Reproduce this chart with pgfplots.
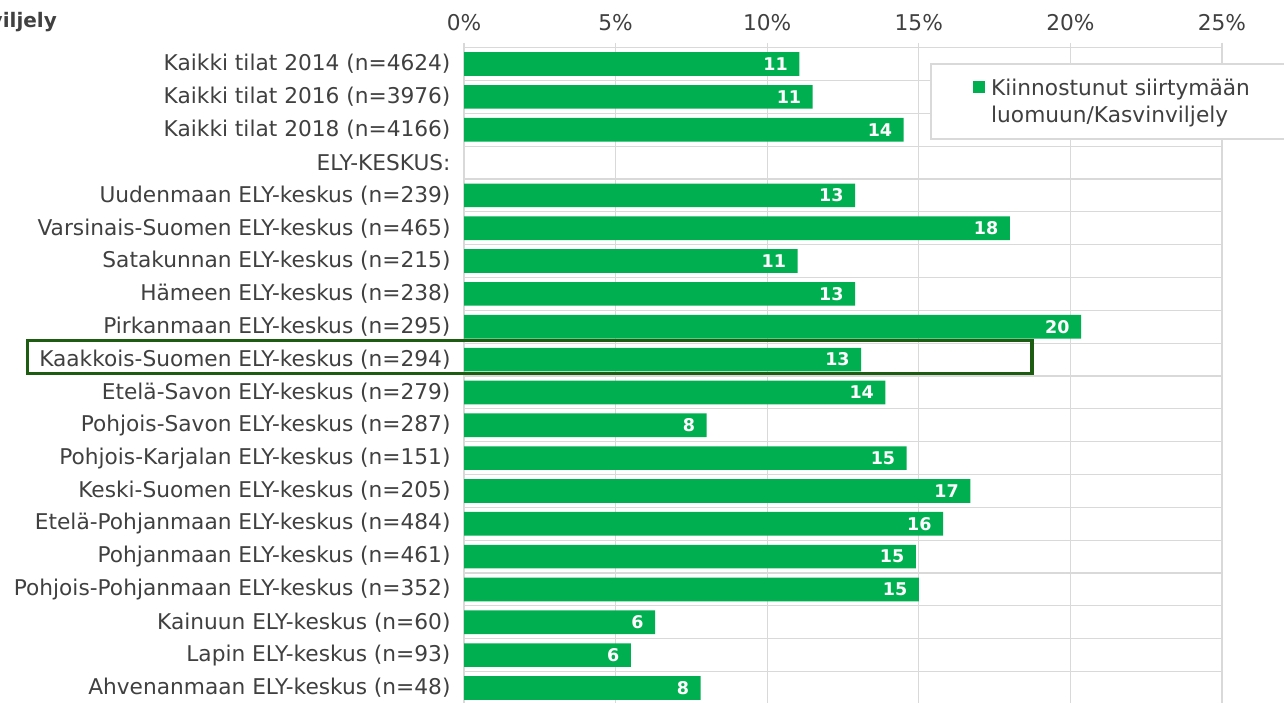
\documentclass[border=0pt]{standalone}
\usepackage{fontspec}
\setmainfont{DejaVu Sans}
\usepackage{pgfplots}
\pgfplotsset{compat=1.18}
\definecolor{bargreen}{HTML}{00B050}
\definecolor{textgray}{HTML}{404040}
\definecolor{gridgray}{HTML}{D9D9D9}
\definecolor{hlgreen}{HTML}{1E5C12}
\newcommand\lbl{\fontsize{21.7}{27}\selectfont}
\begin{document}
\begin{tikzpicture}
\begin{axis}[
  at={(464pt,-2.4pt)}, anchor=south west,
  scale only axis, width=758pt, height=656.8pt,
  xbar, bar width=0.72, bar shift=0pt,
  xmin=0, xmax=25, ymin=-0.5, ymax=19.5, y dir=reverse,
  clip=false,
  axis line style={gridgray, line width=1.2pt},
  xtick={0,5,10,15,20,25},
  xticklabels={0\%,5\%,10\%,15\%,20\%,25\%},
  xtick pos=upper, xticklabel pos=upper,
  tick align=outside, major tick length=5pt,
  xtick style={gridgray, line width=1.2pt},
  ytick style={draw=none}, minor tick style={draw=none},
  xmajorgrids, major grid style={gridgray, line width=1.2pt},
  ytick={0,...,19},
  minor ytick={-0.5,0.5,1.5,2.5,3.5,4.5,5.5,6.5,7.5,8.5,9.5,10.5,11.5,12.5,13.5,14.5,15.5,16.5,17.5,18.5,19.5}, yminorgrids,
  minor grid style={gridgray, line width=1.2pt},
  yticklabels={Kaikki tilat 2014 (n=4624),Kaikki tilat 2016 (n=3976),Kaikki tilat 2018 (n=4166),ELY-KESKUS:,Uudenmaan ELY-keskus (n=239),Varsinais-Suomen ELY-keskus (n=465),Satakunnan ELY-keskus (n=215),Hämeen ELY-keskus (n=238),Pirkanmaan ELY-keskus (n=295),Kaakkois-Suomen ELY-keskus (n=294),Etelä-Savon ELY-keskus (n=279),Pohjois-Savon ELY-keskus (n=287),Pohjois-Karjalan ELY-keskus (n=151),Keski-Suomen ELY-keskus (n=205),Etelä-Pohjanmaan ELY-keskus (n=484),Pohjanmaan ELY-keskus (n=461),Pohjois-Pohjanmaan ELY-keskus (n=352),Kainuun ELY-keskus (n=60),Lapin ELY-keskus (n=93),Ahvenanmaan ELY-keskus (n=48)},
  yticklabel style={font=\lbl, text=textgray, xshift=-5pt},
  xticklabel style={font=\lbl, text=textgray, yshift=8pt},
  nodes near coords, point meta=explicit symbolic,
  nodes near coords style={anchor=east, xshift=-8pt, text=white, font=\bfseries\fontsize{17.5}{20}\selectfont},
  legend style={at={(0.615,0.977)}, anchor=north west, draw=gridgray, line width=2pt,
    font=\lbl, text=textgray, inner xsep=42pt, inner ysep=13pt,
    cells={align=left, anchor=west},
    /tikz/every odd column/.append style={column sep=4pt}},
  legend image code/.code={\fill[bargreen] (0pt,8.3pt) rectangle (12pt,20.3pt);},
]
\addplot[fill=bargreen, draw=none] coordinates {
(11.06,0) [11]
(11.5,1) [11]
(14.5,2) [14]
(12.9,4) [13]
(18.0,5) [18]
(11.0,6) [11]
(12.9,7) [13]
(20.35,8) [20]
(13.1,9) [13]
(13.9,10) [14]
(8.0,11) [8]
(14.6,12) [15]
(16.7,13) [17]
(15.8,14) [16]
(14.9,15) [15]
(15.0,16) [15]
(6.3,17) [6]
(5.5,18) [6]
(7.8,19) [8]
};
\addlegendentry{Kiinnostunut siirtymään\\luomuun/Kasvinviljely}
\draw[hlgreen, line width=3.2pt] (axis cs:-14.39,8.43) rectangle (axis cs:18.73,9.43);
\end{axis}
\node[anchor=base east, inner sep=0, font=\bfseries\fontsize{20}{24}\selectfont, text=textgray] at (57pt,674pt) {Kasvinviljely};
\pgfresetboundingbox
\useasboundingbox (0,0) rectangle (1284pt,702pt);
\end{tikzpicture}
\end{document}
